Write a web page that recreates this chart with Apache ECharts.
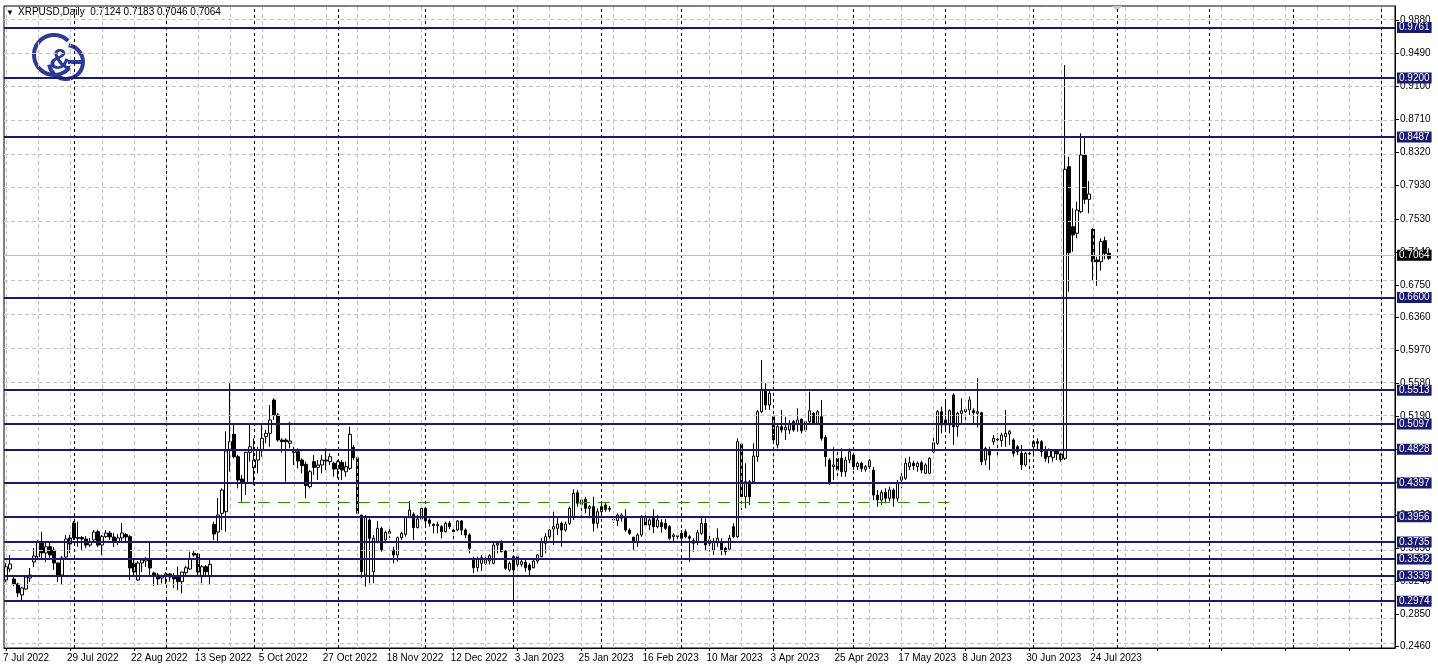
<!DOCTYPE html>
<html><head><meta charset="utf-8">
<script src="https://cdn.jsdelivr.net/npm/echarts@6/dist/echarts.min.js"></script>
<style>html,body{margin:0;padding:0;background:#fff}#c{width:1438px;height:671px}</style>
</head><body><div id="c"></div>
<script>
// ---------- data ----------
const symbolTitle = 'XRPUSD,Daily';
const lastOHLC = ['0.7124', '0.7183', '0.7046', '0.7064'];
const startDate = '2022-07-07';
const totalSlots = 348; // daily slots shown incl. empty right shift
const xTickLabels = ['7 Jul 2022','29 Jul 2022','22 Aug 2022','13 Sep 2022','5 Oct 2022','27 Oct 2022','18 Nov 2022','12 Dec 2022','3 Jan 2023','25 Jan 2023','16 Feb 2023','10 Mar 2023','3 Apr 2023','25 Apr 2023','17 May 2023','8 Jun 2023','30 Jun 2023','24 Jul 2023'];
const yTickValues = [0.2460,0.2850,0.3240,0.3630,0.4020,0.4410,0.4800,0.5190,0.5580,0.5970,0.6360,0.6750,0.7140,0.7530,0.7930,0.8320,0.8710,0.9100,0.9490,0.9880];
const levelLines = [0.9761,0.9200,0.8487,0.6600,0.5513,0.5097,0.4828,0.4397,0.3956,0.3735,0.3532,0.3339,0.2974];
const bidPrice = 0.7064;
const supportLine = {fromBar: 58, toBar: 236, price: 0.4175};

const opens = [0.3251,0.3381,0.3263,0.3203,0.3073,0.3144,0.3274,0.3464,0.3527,0.3705,0.3571,0.3645,0.3606,0.3452,0.3310,0.3523,0.3749,0.3926,0.3743,0.3755,
0.3737,0.3665,0.3725,0.3823,0.3665,0.3764,0.3807,0.3760,0.3705,0.3749,0.3790,0.3764,0.3452,0.3251,0.3452,0.3476,0.3500,0.3334,0.3310,0.3274,
0.3298,0.3322,0.3300,0.3301,0.3231,0.3337,0.3381,0.3567,0.3559,0.3290,0.3408,0.3290,0.3910,0.3819,0.4041,0.4060,0.4791,0.4977,0.4712,0.4448,
0.4408,0.4764,0.4582,0.4673,0.4791,0.4949,0.4989,0.5384,0.5206,0.4910,0.4910,0.4871,0.4791,0.4771,0.4673,0.4622,0.4357,0.4653,0.4586,0.4614,
0.4673,0.4653,0.4634,0.4566,0.4645,0.4534,0.4574,0.4823,0.4700,0.4021,0.3310,0.3962,0.3349,0.3705,0.3863,0.3725,0.3823,0.3606,0.3547,0.3752,
0.3792,0.4001,0.4029,0.3871,0.3974,0.4100,0.3962,0.3910,0.3894,0.3883,0.3823,0.3922,0.3843,0.3843,0.3950,0.3843,0.3784,0.3507,0.3396,0.3448,
0.3448,0.3476,0.3448,0.3665,0.3705,0.3594,0.3369,0.3527,0.3527,0.3436,0.3460,0.3428,0.3396,0.3476,0.3527,0.3685,0.3764,0.3855,0.3863,0.3922,
0.3843,0.3922,0.3994,0.4285,0.4148,0.4207,0.4100,0.4120,0.3922,0.4060,0.4140,0.4089,0.3970,0.3954,0.3982,0.3982,0.3843,0.3757,0.3705,0.3784,
0.4001,0.3902,0.4001,0.3883,0.3930,0.3922,0.3883,0.3764,0.3764,0.3804,0.3823,0.3764,0.3685,0.3705,0.3804,0.3922,0.3725,0.3606,0.3693,0.3705,
0.3626,0.3614,0.3883,0.3764,0.4863,0.4238,0.4416,0.4416,0.4712,0.5245,0.5503,0.5325,0.5186,0.4851,0.5068,0.5029,0.5029,0.5127,0.5100,0.5155,
0.5029,0.5127,0.5226,0.5108,0.5186,0.4942,0.4673,0.4594,0.4693,0.4693,0.4534,0.4673,0.4732,0.4594,0.4634,0.4562,0.4594,0.4554,0.4258,0.4199,
0.4289,0.4219,0.4317,0.4219,0.4436,0.4456,0.4594,0.4634,0.4594,0.4641,0.4515,0.4515,0.4771,0.4870,0.5245,0.5147,0.5088,0.5443,0.5068,0.5226,
0.5245,0.5266,0.5257,0.5226,0.5233,0.4673,0.4791,0.4890,0.4910,0.4902,0.4949,0.4981,0.4910,0.4830,0.4752,0.4614,0.4752,0.4830,0.4890,0.4890,
0.4771,0.4712,0.4705,0.4783,0.4744,0.4693,0.8150,0.7438,0.7360,0.7616,0.8288,0.7763,0.7407,0.7044,0.7023,0.7273,0.7124];
const highs = [0.3452,0.3547,0.3286,0.3215,0.3168,0.3298,0.3393,0.3630,0.3725,0.3823,0.3689,0.3689,0.3642,0.3464,0.3535,0.3784,0.3784,0.3950,0.3942,0.3770,
0.3770,0.3749,0.3843,0.3843,0.3784,0.3843,0.3831,0.3807,0.3796,0.3926,0.3807,0.3784,0.3488,0.3476,0.3511,0.3523,0.3705,0.3345,0.3334,0.3314,
0.3345,0.3334,0.3334,0.3408,0.3349,0.3420,0.3586,0.3606,0.3571,0.3428,0.3428,0.3488,0.3942,0.4223,0.4337,0.5010,0.5582,0.5088,0.4732,0.4495,
0.4771,0.5088,0.4930,0.4830,0.5088,0.5029,0.5325,0.5404,0.5230,0.4930,0.4930,0.5127,0.4830,0.4811,0.4693,0.4653,0.4554,0.4732,0.4673,0.4732,
0.4811,0.4752,0.4653,0.4673,0.4673,0.4653,0.5068,0.4850,0.4712,0.4021,0.4021,0.3982,0.3784,0.3950,0.3883,0.3831,0.3863,0.3645,0.3764,0.3823,
0.4001,0.4187,0.4053,0.4021,0.4108,0.4108,0.3982,0.3922,0.3942,0.3902,0.3942,0.3950,0.3863,0.3962,0.3962,0.3863,0.3804,0.3527,0.3527,0.3547,
0.3527,0.3555,0.3705,0.3713,0.3725,0.3606,0.3468,0.3547,0.3547,0.3488,0.3488,0.3448,0.3488,0.3555,0.3745,0.3804,0.3883,0.4061,0.3982,0.3942,
0.3942,0.4120,0.4325,0.4317,0.4219,0.4238,0.4140,0.4238,0.4100,0.4152,0.4160,0.4128,0.4002,0.4041,0.4041,0.4089,0.3863,0.3764,0.3804,0.4021,
0.4041,0.3982,0.4089,0.4021,0.3970,0.3970,0.3902,0.3804,0.3811,0.3843,0.3851,0.3784,0.3745,0.3843,0.4001,0.3982,0.3784,0.3745,0.3863,0.3745,
0.3645,0.3784,0.3922,0.4930,0.4871,0.4634,0.4436,0.4871,0.5265,0.5858,0.5582,0.5503,0.5206,0.5088,0.5266,0.5186,0.5147,0.5147,0.5285,0.5167,
0.5147,0.5483,0.5245,0.5265,0.5384,0.4969,0.4693,0.4824,0.4791,0.4811,0.4712,0.4811,0.4760,0.4653,0.4653,0.4614,0.4693,0.4594,0.4317,0.4317,
0.4337,0.4357,0.4337,0.4436,0.4530,0.4693,0.4712,0.4665,0.4653,0.4665,0.4634,0.4705,0.4949,0.5265,0.5305,0.5392,0.5273,0.5463,0.5245,0.5404,
0.5305,0.5424,0.5285,0.5641,0.5245,0.4830,0.4830,0.4969,0.4989,0.4997,0.5266,0.5029,0.4930,0.4851,0.4851,0.4771,0.4771,0.4910,0.4930,0.4910,
0.4838,0.4811,0.4800,0.4791,0.4760,0.9355,0.8268,0.7656,0.7735,0.8545,0.8505,0.7979,0.7419,0.7083,0.7301,0.7320,0.7183];
const lows = [0.3227,0.3345,0.3180,0.3049,0.2990,0.3132,0.3227,0.3405,0.3488,0.3488,0.3464,0.3511,0.3369,0.3227,0.3203,0.3500,0.3571,0.3725,0.3645,0.3606,
0.3630,0.3642,0.3689,0.3642,0.3547,0.3749,0.3725,0.3642,0.3665,0.3689,0.3689,0.3251,0.3310,0.3239,0.3345,0.3405,0.3310,0.3180,0.3192,0.3211,
0.3192,0.3231,0.3156,0.3132,0.3093,0.3290,0.3369,0.3527,0.3290,0.3211,0.3310,0.3192,0.3725,0.3705,0.3843,0.3823,0.4534,0.4693,0.4337,0.4179,
0.4258,0.4653,0.4376,0.4515,0.4712,0.4871,0.4830,0.5147,0.4890,0.4760,0.4416,0.4811,0.4614,0.4574,0.4515,0.4219,0.4337,0.4495,0.4436,0.4515,
0.4554,0.4614,0.4475,0.4456,0.4436,0.4475,0.4554,0.4673,0.4021,0.3271,0.3171,0.3211,0.3211,0.3685,0.3586,0.3685,0.3745,0.3448,0.3468,0.3725,
0.3764,0.3982,0.3725,0.3863,0.3950,0.3902,0.3883,0.3804,0.3804,0.3745,0.3816,0.3855,0.3712,0.3831,0.3784,0.3745,0.3567,0.3330,0.3349,0.3357,
0.3428,0.3436,0.3436,0.3567,0.3579,0.3369,0.3349,0.2954,0.3408,0.3408,0.3349,0.3310,0.3389,0.3448,0.3519,0.3567,0.3725,0.3665,0.3784,0.3645,
0.3823,0.3902,0.3962,0.4120,0.3962,0.4041,0.3982,0.3823,0.3863,0.4021,0.4060,0.4060,0.3930,0.3891,0.3942,0.3823,0.3784,0.3606,0.3645,0.3764,
0.3883,0.3843,0.3804,0.3863,0.3811,0.3843,0.3725,0.3705,0.3693,0.3705,0.3745,0.3468,0.3586,0.3665,0.3784,0.3606,0.3586,0.3547,0.3645,0.3547,
0.3547,0.3606,0.3745,0.3745,0.4080,0.4100,0.4140,0.4396,0.4653,0.5226,0.5266,0.5266,0.4890,0.4811,0.4997,0.4910,0.4981,0.5009,0.5009,0.4989,
0.5009,0.5108,0.5088,0.5088,0.4902,0.4594,0.4376,0.4436,0.4436,0.4475,0.4475,0.4634,0.4554,0.4554,0.4534,0.4534,0.4554,0.4199,0.4120,0.4140,
0.4160,0.4180,0.4120,0.4180,0.4337,0.4436,0.4554,0.4554,0.4534,0.4515,0.4507,0.4507,0.4752,0.4851,0.4989,0.5029,0.4989,0.4851,0.4949,0.5088,
0.5088,0.5206,0.5088,0.5060,0.4614,0.4614,0.4554,0.4851,0.4712,0.4830,0.4830,0.4851,0.4712,0.4732,0.4554,0.4594,0.4515,0.4712,0.4791,0.4712,
0.4653,0.4634,0.4653,0.4673,0.4653,0.4673,0.6668,0.7142,0.7301,0.7597,0.7707,0.7597,0.6806,0.6735,0.6917,0.7052,0.7046];
const closes = [0.3408,0.3440,0.3203,0.3097,0.3156,0.3286,0.3310,0.3535,0.3705,0.3571,0.3645,0.3547,0.3452,0.3310,0.3511,0.3737,0.3677,0.3749,0.3755,0.3737,
0.3665,0.3705,0.3819,0.3665,0.3764,0.3807,0.3760,0.3705,0.3749,0.3807,0.3760,0.3393,0.3345,0.3452,0.3488,0.3500,0.3393,0.3310,0.3263,0.3298,
0.3322,0.3286,0.3263,0.3231,0.3345,0.3396,0.3496,0.3547,0.3345,0.3408,0.3349,0.3436,0.3796,0.4021,0.4317,0.4780,0.4890,0.4712,0.4436,0.4408,
0.4764,0.4830,0.4673,0.4791,0.4930,0.4989,0.5147,0.5206,0.4910,0.4890,0.4890,0.4898,0.4764,0.4661,0.4606,0.4368,0.4534,0.4586,0.4614,0.4673,
0.4661,0.4712,0.4566,0.4653,0.4554,0.4594,0.4977,0.4700,0.4041,0.3349,0.4001,0.3745,0.3745,0.3863,0.3606,0.3816,0.3804,0.3547,0.3752,0.3804,
0.3989,0.4080,0.3871,0.3974,0.4100,0.3950,0.3922,0.3894,0.3910,0.3823,0.3922,0.3883,0.3823,0.3950,0.3843,0.3784,0.3626,0.3396,0.3507,0.3515,
0.3500,0.3539,0.3665,0.3685,0.3586,0.3389,0.3448,0.3369,0.3436,0.3468,0.3396,0.3369,0.3476,0.3547,0.3705,0.3764,0.3843,0.3883,0.3914,0.3843,
0.3914,0.4100,0.4278,0.4160,0.4199,0.4100,0.4120,0.3922,0.4060,0.4120,0.4089,0.4100,0.3962,0.4021,0.4021,0.3843,0.3804,0.3705,0.3784,0.4001,
0.3902,0.3962,0.3883,0.3962,0.3883,0.3863,0.3745,0.3784,0.3776,0.3745,0.3764,0.3745,0.3717,0.3811,0.3922,0.3665,0.3685,0.3705,0.3745,0.3606,
0.3586,0.3745,0.3764,0.4890,0.4238,0.4416,0.4238,0.4720,0.5245,0.5511,0.5325,0.5464,0.4910,0.5068,0.5029,0.5060,0.5107,0.5029,0.5147,0.5020,
0.5127,0.5257,0.5108,0.5245,0.4930,0.4712,0.4416,0.4614,0.4554,0.4534,0.4673,0.4771,0.4594,0.4634,0.4574,0.4594,0.4665,0.4258,0.4199,0.4289,
0.4219,0.4317,0.4219,0.4396,0.4475,0.4634,0.4641,0.4606,0.4634,0.4554,0.4614,0.4693,0.4878,0.5245,0.5088,0.5088,0.5257,0.5068,0.5226,0.5257,
0.5273,0.5384,0.5233,0.5245,0.4653,0.4811,0.4732,0.4930,0.4922,0.4969,0.4989,0.5009,0.4752,0.4771,0.4614,0.4752,0.4744,0.4890,0.4871,0.4771,
0.4693,0.4791,0.4780,0.4744,0.4681,0.8119,0.7130,0.7340,0.7636,0.8288,0.7763,0.7826,0.7023,0.7023,0.7261,0.7123,0.7064];

// ---------- derived ----------
function weekdays(start, n) {
  const out = []; const d = new Date(start + 'T00:00:00Z');
  while (out.length < n) { const w = d.getUTCDay(); if (w !== 0 && w !== 6) out.push(d.toISOString().slice(0, 10)); d.setUTCDate(d.getUTCDate() + 1); }
  return out;
}
const categories = weekdays(startDate, totalSlots);
const candleData = opens.map((o, i) => [o, closes[i], lows[i], highs[i]]);

const FONT = "'Liberation Sans', Arial, sans-serif";
const NAVY = '#191970';
const GRIDC = '#c4c4c4';
const LOGO = '#2d3a96';

const gridLines = [];
yTickValues.forEach(v => gridLines.push({yAxis: v, lineStyle: {color: GRIDC, type: [4, 3], width: 1}}));
categories.forEach((c, i) => { if (i % 8 === 0) gridLines.push({xAxis: c, lineStyle: {color: GRIDC, type: [4, 3], width: 1}}); });
categories.forEach((c, i) => {
  if (i > 0 && c.slice(0, 7) !== categories[i - 1].slice(0, 7)) gridLines.push({xAxis: c, lineStyle: {color: '#000', type: [3, 3], width: 1}});
});

const objLines = levelLines.map(v => ({
  yAxis: v, lineStyle: {color: NAVY, width: 2, type: 'solid'},
  label: {show: true, position: 'end', distance: 2, formatter: () => v.toFixed(4), color: '#fff', backgroundColor: NAVY, padding: [1, 2, 0, 2], fontSize: 10, fontFamily: FONT}
}));
objLines.push({
  yAxis: bidPrice, lineStyle: {color: '#bdbdbd', width: 1, type: 'solid'},
  label: {show: true, position: 'end', distance: 2, formatter: () => bidPrice.toFixed(4), color: '#fff', backgroundColor: '#000', padding: [1, 2, 0, 2], fontSize: 10, fontFamily: FONT}
});
objLines.push([
  {coord: [categories[supportLine.fromBar], supportLine.price], lineStyle: {color: '#3a8f00', width: 1, type: [12, 8]}, label: {show: false}},
  {coord: [categories[supportLine.toBar], supportLine.price]}
]);

const chart = echarts.init(document.getElementById('c'), null, {renderer: 'canvas'});
chart.setOption({
  animation: false,
  backgroundColor: '#ffffff',
  textStyle: {fontFamily: FONT},
  grid: {left: 3, top: 6, width: 1392, height: 642, show: true, borderColor: '#000', borderWidth: 1, backgroundColor: 'transparent'},
  xAxis: {
    type: 'category', data: categories, boundaryGap: true,
    axisLine: {show: true, lineStyle: {color: '#000'}},
    axisTick: {show: true, interval: (i) => i % 16 === 0, alignWithLabel: true, length: 3, lineStyle: {color: '#000'}},
    axisLabel: {interval: (i) => i % 16 === 0 && i / 16 < xTickLabels.length, formatter: (v, i) => xTickLabels[i / 16] || '',
      align: 'left', color: '#000', fontSize: 10, margin: 5, padding: [0, 0, 0, -3], fontFamily: FONT},
    splitLine: {show: false}
  },
  yAxis: {
    type: 'value', position: 'right', min: 0.24446, max: 1.00542, scale: true,
    axisLine: {show: true, lineStyle: {color: '#000'}},
    axisTick: {show: true, customValues: yTickValues, length: 4, lineStyle: {color: '#000'}},
    axisLabel: {customValues: yTickValues, formatter: (v) => v.toFixed(4), color: '#000', fontSize: 10, margin: 5, fontFamily: FONT},
    splitLine: {show: false}
  },
  series: [
    {type: 'line', data: [], z: 1, silent: true,
      markLine: {silent: true, symbol: ['none', 'none'], label: {show: false}, animation: false, emphasis: {disabled: true}, data: gridLines}},
    {type: 'candlestick', data: candleData, z: 3, barWidth: 3, silent: true,
      itemStyle: {color: '#ffffff', color0: '#000000', borderColor: '#000000', borderColor0: '#000000', borderWidth: 1}},
    {type: 'line', data: [], z: 4, silent: true,
      markLine: {silent: true, symbol: ['none', 'none'], animation: false, emphasis: {disabled: true}, data: objLines}}
  ],
  graphic: [
    {type: 'text', left: 6, top: 9, style: {text: '▼', fontSize: 8, fill: '#000', fontFamily: FONT}},
    {type: 'text', left: 18, top: 7, style: {text: symbolTitle + '  ' + lastOHLC.join(' '), fontSize: 10, fill: '#000', fontFamily: FONT}},
    {type: 'polygon', shape: {points: [[1112, 6], [1122, 6], [1117, 11]]}, style: {fill: '#c8c8c8'}},
    {type: 'group', x: 0, y: 0, children: [
      {type: 'arc', shape: {cx: 54, cy: 55, r: 20, startAngle: Math.PI * 0.22, endAngle: Math.PI * 1.75, clockwise: true}, style: {stroke: LOGO, lineWidth: 4, fill: null}},
      {type: 'arc', shape: {cx: 66, cy: 62, r: 17, startAngle: -Math.PI * 0.45, endAngle: Math.PI * 0.95, clockwise: true}, style: {stroke: LOGO, lineWidth: 4, fill: null}},
      {type: 'line', shape: {x1: 68, y1: 62, x2: 83, y2: 62}, style: {stroke: LOGO, lineWidth: 4}},
      {type: 'text', x: 60, y: 61, style: {text: '&', fontSize: 30, fontWeight: 'bold', fill: LOGO, fontFamily: FONT, align: 'center', verticalAlign: 'middle'}}
    ]}
  ]
});
</script></body></html>
